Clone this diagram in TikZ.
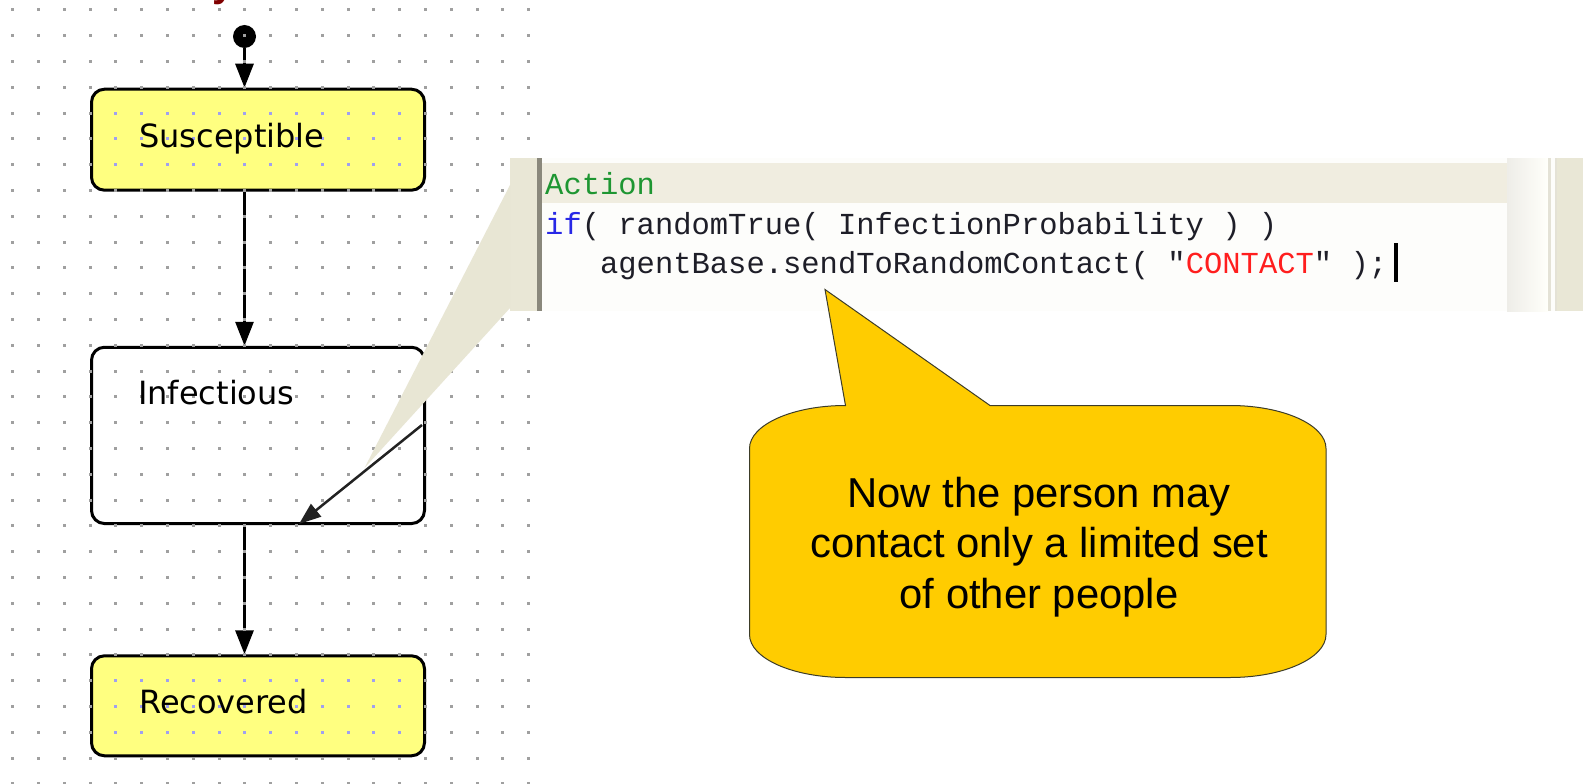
\documentclass[tikz,border=0pt]{standalone}
\usepackage{fontspec}
\setmainfont{Liberation Sans}
\newfontfamily\statefont{DejaVu Sans}
% plain XeTeX font: no TeX quote mapping, so " stays straight
\font\codefnt="Liberation Mono" at 30.5pt
\usetikzlibrary{arrows.meta}

\definecolor{stateyellow}{RGB}{255,255,128}
\definecolor{griddot}{RGB}{160,160,160}
\definecolor{gridlav}{RGB}{160,160,240}
\definecolor{panelbeige}{RGB}{233,231,214}
\definecolor{panelhead}{RGB}{240,237,224}
\definecolor{panelbar}{RGB}{138,136,124}
\definecolor{panelbody}{RGB}{253,253,251}
\definecolor{panelrule}{RGB}{228,226,214}
\definecolor{wedgebeige}{RGB}{232,230,212}
\definecolor{codegreen}{RGB}{30,150,50}
\definecolor{codeblue}{RGB}{40,40,230}
\definecolor{codered}{RGB}{255,30,30}
\definecolor{codeink}{RGB}{30,30,40}
\definecolor{noteyellow}{RGB}{255,204,0}
\definecolor{noteedge}{RGB}{60,60,40}
\definecolor{titlered}{RGB}{128,0,0}

\begin{document}
\begin{tikzpicture}[x=1pt,y=-1pt,
  statebox/.style={draw=black, line width=3pt, rounded corners=13pt,
    minimum width=333pt, inner sep=0pt},
  statelabel/.style={anchor=base west, inner sep=0pt,
    font=\statefont\fontsize{32}{38}\selectfont, text=black},
  startdot/.style={circle, fill=black, minimum size=23pt, inner sep=0pt},
  flow/.style={line width=3pt, -{Triangle[length=24pt,width=18pt]}},
  sendflow/.style={line width=2.5pt, draw={rgb,255:red,34;green,34;blue,34},
    -{Triangle[length=22pt,width=16pt]}},
  codeline/.style={anchor=base west, inner sep=0pt, font=\codefnt, text=codeink},
  notetext/.style={anchor=base, inner sep=0pt,
    font=\fontsize{41.8}{50}\selectfont, text=black},
]
\useasboundingbox (0,0) rectangle (1588,784);
\fill[white] (0,0) rectangle (1588,784);

% cut-off title above the chart
\node[anchor=base west, inner sep=0pt, text=titlered,
  font=\bfseries\fontsize{40}{48}\selectfont] (titletail) at (212,-3) {y};

% statechart states
\node[startdot] (start) at (244.5,36.5) {};
\node[statebox, fill=stateyellow, minimum height=101pt] (sus) at (258,139.7) {};
\node[statebox, fill=white, minimum height=176.3pt] (inf) at (258,435.4) {};
\node[statebox, fill=stateyellow, minimum height=100pt] (rec) at (258,705.8) {};

% transitions
\draw[flow] (start) -- (start |- sus.north);
\draw[flow] (sus.south -| start) -- (inf.north -| start);
\draw[flow] (inf.south -| start) -- (rec.north -| start);

% editor grid
\foreach \i in {0,...,20}
  \foreach \j in {0,...,30}
    \fill[griddot] ({11.2+25.8*\i},{8.4+25.8*\j}) rectangle +(3,3);
\foreach \bx/\by/\ex/\ey in {93/90.7/423/188.7, 93/657.3/423/754.3}{
  \begin{scope}
    \clip[rounded corners=11pt] (\bx,\by) rectangle (\ex,\ey);
    \foreach \i in {0,...,20}
      \foreach \j in {0,...,30}
        \fill[gridlav] ({11.2+25.8*\i},{8.4+25.8*\j}) rectangle +(3,3);
  \end{scope}
}

% state names
\node[statelabel] (suslbl) at (139,147.7) {Susceptible};
\node[statelabel] (inflbl) at (138,404) {Infectious};
\node[statelabel] (reclbl) at (139,713.3) {Recovered};

% code editor panel
\fill[panelbody] (510,158) rectangle (1583,311);
\fill[panelbeige] (510,158) rectangle (537,311);
\fill[panelbar] (537,158) rectangle (542,311);
\fill[panelhead] (542,163) rectangle (1507,203);
\shade[left color={rgb,255:red,238;green,237;blue,232},
       right color={rgb,255:red,255;green,255;blue,250}] (1507,158) rectangle (1548,311);
\fill[panelrule] (1548,158) rectangle (1551,311);
\fill[panelrule] (1555,158) rectangle (1557,311);
\fill[panelbeige] (1557,158) rectangle (1583,311);

% pointer from the panel to the state's action
\fill[wedgebeige] (510,185) -- (364.5,468) -- (510,308) -- cycle;

% self action arrow inside Infectious
\coordinate (sendfrom) at (422,425);
\coordinate (sendto) at (299,524);
\draw[sendflow] (sendfrom) -- (sendto);

% code text
\node[codeline, text=codegreen] (lnaction) at (545,194.5) {Action};
\node[codeline] (lnif) at (545,234) {{\color{codeblue}if}( randomTrue( InfectionProbability ) )};
\node[codeline] (lnsend) at (599.9,273.5) {agentBase.sendToRandomContact( "{\color{codered}CONTACT}" );};
\fill[black] (1394,243) rectangle (1398,282);

% callout
\fill[noteyellow, draw=noteedge, line width=1pt]
  (749.5,448.5) .. controls (749.5,424.8) and (792.5,405.5) .. (845.5,405.5)
  -- (825,289.5) -- (990,405.5) -- (1230,405.5)
  .. controls (1283,405.5) and (1326,424.8) .. (1326,448.5)
  -- (1326,634.5)
  .. controls (1326,658.2) and (1283,677.5) .. (1230,677.5)
  -- (845.5,677.5)
  .. controls (792.5,677.5) and (749.5,658.2) .. (749.5,634.5)
  -- cycle;
\node[notetext] (note1) at (1039,507.7) {Now the person may};
\node[notetext] (note2) at (1039,557.7) {contact only a limited set};
\node[notetext] (note3) at (1039,608.3) {of other people};
\end{tikzpicture}
\end{document}
